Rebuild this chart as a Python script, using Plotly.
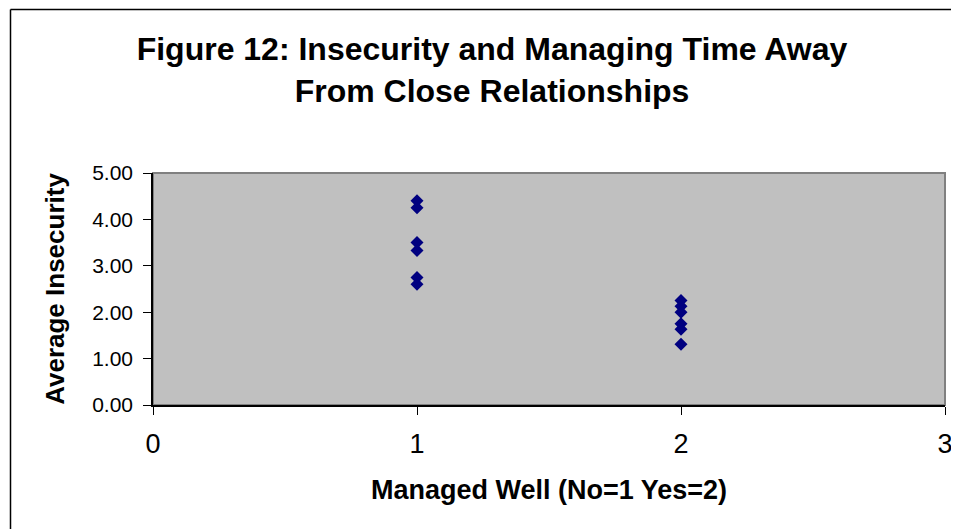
import plotly.graph_objects as go

# Data
managed_well = [1, 1, 1, 1, 1, 1, 2, 2, 2, 2, 2, 2]
avg_insecurity = [4.40, 4.25, 3.50, 3.33, 2.75, 2.60,
                  2.25, 2.13, 2.00, 1.75, 1.63, 1.31]
y_ticks = [0, 1, 2, 3, 4, 5]
y_tick_labels = ["0.00", "1.00", "2.00", "3.00", "4.00", "5.00"]
x_ticks = [0, 1, 2, 3]

# page has an 8px body margin; work in figure coordinates = page - 8
OFF = 8
W, H = 959 - OFF, 529 - OFF
ML, MT = 153 - OFF, 173 - OFF
MR = W - (945 - OFF)
MB = H - (405 - OFF)
pw = W - ML - MR
ph = H - MT - MB

def px_x(p):
    return (p - OFF - ML) / pw

def px_y(p):
    return (H - MB - (p - OFF)) / ph

FONT = "Liberation Sans, Arial, sans-serif"

fig = go.Figure()
fig.add_trace(go.Scatter(
    x=managed_well, y=avg_insecurity, mode="markers",
    marker=dict(symbol="diamond", size=10, color="#000080",
                line=dict(width=0)),
    showlegend=False, cliponaxis=False,
))

fig.update_layout(
    width=W, height=H,
    margin=dict(l=ML, r=MR, t=MT, b=MB, autoexpand=False),
    paper_bgcolor="white",
    plot_bgcolor="#C0C0C0",
    font=dict(family=FONT, color="black"),
    title=dict(
        text="Figure 12: Insecurity and Managing Time Away<br>From Close Relationships",
        font=dict(family=FONT, size=32, color="black", weight="bold"),
        x=(492 - OFF) / W, xanchor="center", xref="container",
        y=1 - (60 - OFF) / H, yanchor="middle", yref="container",
    ),
    xaxis=dict(
        range=[0, 3], tickvals=x_ticks, ticktext=[str(v) for v in x_ticks],
        showgrid=False, zeroline=False, automargin=False,
        showline=True, linecolor="black", linewidth=1.5,
        ticks="outside", ticklen=8, tickcolor="black", tickwidth=1,
        tickfont=dict(family=FONT, size=27, color="black"),
        ticklabelstandoff=6,
        title=dict(text="<b>Managed Well (No=1 Yes=2)</b>",
                   font=dict(family=FONT, size=27, color="black"),
                   standoff=22),
        fixedrange=True,
    ),
    yaxis=dict(
        range=[0, 5], tickvals=y_ticks, ticktext=y_tick_labels,
        showgrid=False, zeroline=False, automargin=False,
        showline=True, linecolor="black", linewidth=1.5,
        ticks="outside", ticklen=8, tickcolor="black", tickwidth=1,
        tickfont=dict(family=FONT, size=21, color="black"),
        ticklabelstandoff=6,
        title=dict(text="<b>Average Insecurity</b>",
                   font=dict(family=FONT, size=26, color="black"),
                   standoff=20),
        fixedrange=True,
    ),
    shapes=[
        # plot area frame (gray top/right)
        dict(type="rect", xref="paper", yref="paper", x0=0, x1=1, y0=0, y1=1,
             line=dict(color="#808080", width=2), layer="below"),
        # outer chart border: top edge
        dict(type="line", xref="paper", yref="paper",
             x0=px_x(10.5), x1=px_x(959), y0=px_y(9.5), y1=px_y(9.5),
             line=dict(color="black", width=1.5)),
        # outer chart border: left edge
        dict(type="line", xref="paper", yref="paper",
             x0=px_x(10.5), x1=px_x(10.5), y0=px_y(9.5), y1=px_y(529),
             line=dict(color="black", width=1.5)),
    ],
)

fig.write_html("out.html")
